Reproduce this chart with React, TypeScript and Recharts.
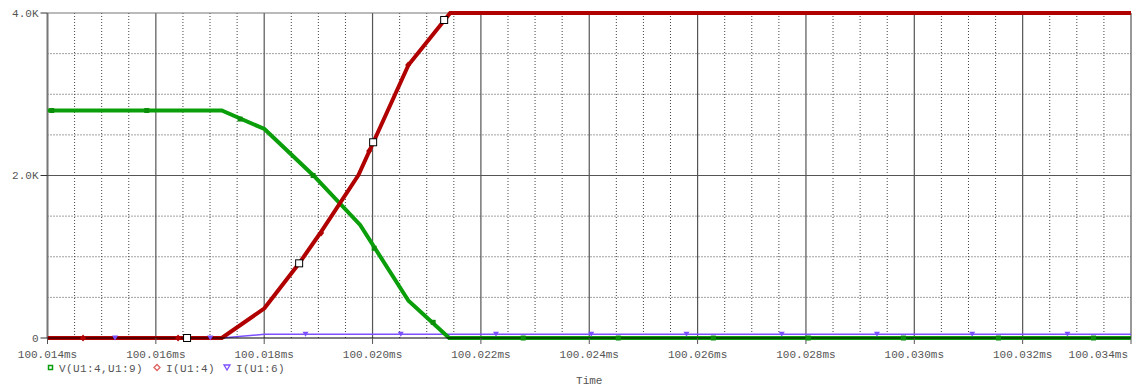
import { ComposedChart, Line, XAxis, YAxis, ReferenceLine, Legend, Label } from 'recharts';

// axis ticks (ms / volts-amps)
const timeTicks = [100.014, 100.016, 100.018, 100.02, 100.022, 100.024, 100.026, 100.028, 100.03, 100.032, 100.034];
const levelTicks = [0, 2000, 4000];
const minorLevels = [500, 1000, 1500, 2500, 3000, 3500];

// V(U1:4,U1:9)
const vTime = [100.014, 100.017217, 100.018004, 100.018909, 100.019771, 100.020663, 100.021415, 100.034];
const vValue = [2800, 2800, 2572, 2000, 1391, 459, 0, 0];
// I(U1:4)
const i4Time = [100.014, 100.017217, 100.018004, 100.018645, 100.019032, 100.01974, 100.020663, 100.021433, 100.034];
const i4Value = [0, 0, 365, 919, 1289, 2006, 3360, 4000, 4000];
// I(U1:6)
const i6Time = [100.014, 100.017217, 100.018004, 100.034];
const i6Value = [0, 0, 45, 45];

// trace symbols
const vMarkTime = [100.014078, 100.015832, 100.017555, 100.018903, 100.02003, 100.021119, 100.022781, 100.024536, 100.02629, 100.028044, 100.029799, 100.031553, 100.033307];
const vMarkValue = [2800, 2800, 2695, 2000, 1104, 193, 0, 0, 0, 0, 0, 0, 0];
const i4MarkTime = [100.014656, 100.01641, 100.019051, 100.019937, 100.020657];
const i4MarkValue = [0, 0, 1292, 2302, 3360];
const i6MarkTime = [100.015247, 100.017005, 100.018763, 100.020521, 100.022279, 100.024037, 100.025795, 100.027553, 100.029311, 100.031069, 100.032827];
const i6MarkValue = [0, 0, 45, 45, 45, 45, 45, 45, 45, 45, 45];
// hollow data-point squares
const pointTime = [100.016576, 100.018645, 100.020011, 100.021322];
const pointValue = [0, 919, 2409, 3914];

const GREEN = '#0a9f0a';
const RED = '#b00000';
const PURPLE = '#7d50ff';
const FONT = 'Liberation Mono';
const TEXT = '#555';

const zip = (ts: number[], vs: number[]) => ts.map((t, i) => ({ t, v: vs[i] }));

const minorTimes = timeTicks.slice(0, -1).flatMap((t) => [1, 2, 3].map((k) => t + k * 0.0005));

const squareDot = (color: string) => (p: any) => (
  <rect key={p.key} x={p.cx - 2.5} y={p.cy - 2.5} width={5} height={5} fill={color} />
);
const diamondDot = (p: any) => (
  <path key={p.key} d={`M${p.cx},${p.cy - 3.5}L${p.cx + 3},${p.cy}L${p.cx},${p.cy + 3.5}L${p.cx - 3},${p.cy}Z`} fill={RED} />
);
const triangleDot = (p: any) => (
  <path key={p.key} d={`M${p.cx - 3},${p.cy - 2.5}L${p.cx + 3},${p.cy - 2.5}L${p.cx},${p.cy + 2.5}Z`} fill={PURPLE} />
);
const hollowDot = (p: any) => (
  <rect key={p.key} x={p.cx - 3.5} y={p.cy - 3.5} width={7} height={7} fill="#fff" stroke="#000" strokeWidth={1} />
);

const TimeTick = (props: any) => {
  const { x, y, payload, index } = props;
  const last = index === timeTicks.length - 1;
  return (
    <text x={last ? x - 3 : x} y={y} dy="0.71em" textAnchor={last ? 'end' : 'middle'} fontFamily={FONT} fontSize={11} fill={TEXT}>
      {payload.value.toFixed(3)}ms
    </text>
  );
};

const LegendBox = () => (
  <svg width={300} height={16}>
    <rect x={3.5} y={5.5} width={4} height={4} fill="none" stroke={GREEN} strokeWidth={1.5} />
    <text x={14} y={12} fontFamily={FONT} fontSize={11} letterSpacing={0.4} fill={TEXT}>V(U1:4,U1:9)</text>
    <path d="M112,4.5L115,7.5L112,10.5L109,7.5Z" fill="none" stroke="#e06060" strokeWidth={1.3} />
    <text x={121} y={12} fontFamily={FONT} fontSize={11} letterSpacing={0.4} fill={TEXT}>I(U1:4)</text>
    <path d="M179,5L185,5L182,10Z" fill="none" stroke={PURPLE} strokeWidth={1.3} />
    <text x={191} y={12} fontFamily={FONT} fontSize={11} letterSpacing={0.4} fill={TEXT}>I(U1:6)</text>
  </svg>
);

export default function App() {
  return (
    <div style={{ position: 'absolute', left: 0, top: 0, width: 1132, height: 387, background: '#fff' }}>
      <ComposedChart width={1132} height={387} margin={{ top: 13, right: 1, bottom: 4, left: 0 }}>
        <XAxis
          type="number"
          dataKey="t"
          domain={[100.014, 100.034]}
          ticks={timeTicks}
          interval={0}
          allowDataOverflow
          height={45}
          tickSize={6}
          tickMargin={6}
          axisLine={{ stroke: '#000' }}
          tickLine={{ stroke: '#555' }}
          tick={<TimeTick />}
        >
          <Label value="Time" position="insideBottom" offset={-1} style={{ fontFamily: FONT, fontSize: 11, fill: TEXT }} />
        </XAxis>
        <YAxis
          type="number"
          dataKey="v"
          domain={[0, 4000]}
          ticks={levelTicks}
          width={47.5}
          tickSize={7}
          axisLine={false}
          tickLine={{ stroke: '#333' }}
          tick={{ fontFamily: FONT, fontSize: 11, fill: TEXT }}
          tickFormatter={(v: number) => (v === 0 ? '0' : `${(v / 1000).toFixed(1)}K`)}
        />

        {minorTimes.map((t) => (
          <ReferenceLine key={`mt${t}`} x={t} stroke="#444" strokeDasharray="1 2" />
        ))}
        {minorLevels.map((l) => (
          <ReferenceLine key={`ml${l}`} y={l} stroke="#444" strokeDasharray="1 2" />
        ))}
        {timeTicks.map((t, i) => (
          <ReferenceLine key={`Mt${t}`} x={t} stroke={i === 0 ? '#777' : '#555'} strokeWidth={i === 0 ? 2 : 1.2} />
        ))}
        <ReferenceLine y={2000} stroke="#555" strokeWidth={1.2} />
        <ReferenceLine y={4000} stroke="#777" strokeWidth={1.2} />

        <Line data={zip(i6Time, i6Value)} dataKey="v" type="linear" stroke={PURPLE} strokeWidth={1.5} dot={false} activeDot={false} isAnimationActive={false} />
        <Line data={zip(i6MarkTime, i6MarkValue)} dataKey="v" stroke="none" dot={triangleDot} activeDot={false} isAnimationActive={false} />
        <Line data={zip(vTime, vValue)} dataKey="v" type="linear" stroke={GREEN} strokeWidth={4} dot={false} activeDot={false} isAnimationActive={false} />
        <Line data={zip(vMarkTime, vMarkValue)} dataKey="v" stroke="none" dot={squareDot('#0b8f0b')} activeDot={false} isAnimationActive={false} />
        <Line data={zip(i4Time, i4Value)} dataKey="v" type="linear" stroke={RED} strokeWidth={4} dot={false} activeDot={false} isAnimationActive={false} />
        <Line data={zip(i4MarkTime, i4MarkValue)} dataKey="v" stroke="none" dot={diamondDot} activeDot={false} isAnimationActive={false} />
        <Line data={zip(pointTime, pointValue)} dataKey="v" stroke="none" dot={hollowDot} activeDot={false} isAnimationActive={false} />

        <Legend
          layout="horizontal"
          verticalAlign="middle"
          align="center"
          wrapperStyle={{ top: 360, left: 45, width: 300, height: 16 }}
          content={() => <LegendBox />}
        />
      </ComposedChart>
    </div>
  );
}
